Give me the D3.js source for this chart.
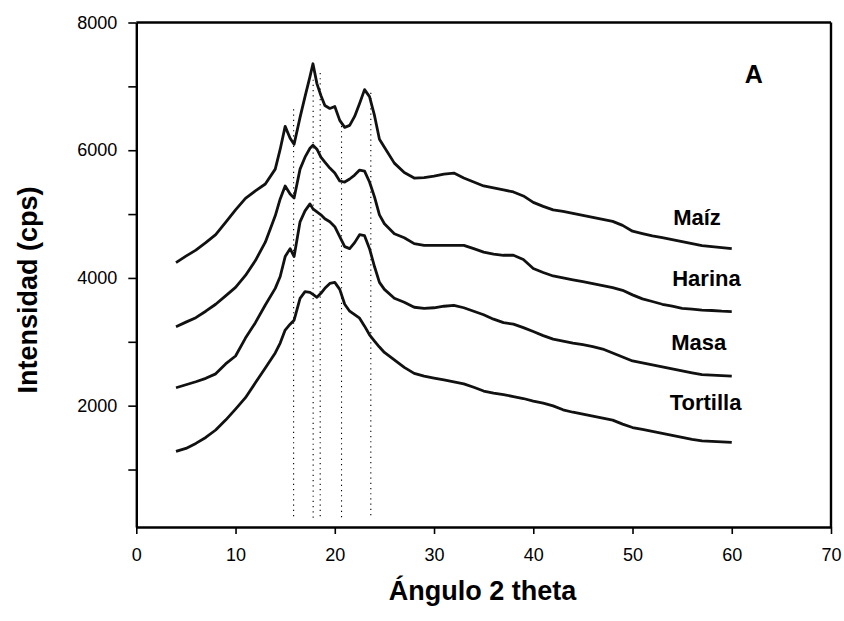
<!DOCTYPE html>
<html>
<head>
<meta charset="utf-8">
<script src="https://cdn.jsdelivr.net/npm/d3@7"></script>
<style>
  body { margin: 0; background: #fff; }
  svg text { font-family: Arial, "Liberation Sans", Helvetica, sans-serif; fill: #000; }
</style>
</head>
<body>
<div id="chart"></div>
<script>
// angulo 2 theta (grados)
const angulos = [4, 5, 6, 7, 8, 9, 10, 11, 12, 13, 14, 14.5, 15, 15.5, 15.9, 16.5, 17, 17.5, 17.8, 18.2, 18.6,
  19, 19.5, 20, 20.5, 21, 21.5, 22, 22.5, 23, 23.5, 24, 24.5, 25, 26, 27, 28, 29, 30, 31, 32, 33, 34, 35, 36,
  37, 38, 39, 40, 41, 42, 43, 44, 45, 46, 47, 48, 49, 50, 51, 52, 53, 54, 55, 56, 57, 58, 59, 60];

// intensidades (cps)
const maiz = [4240, 4342, 4436, 4553, 4677, 4872, 5066, 5245, 5362, 5471, 5704, 6016, 6374, 6187, 6093, 6514, 6840, 7152, 7354, 7043, 6856,
  6700, 6654, 6685, 6467, 6358, 6389, 6529, 6732, 6949, 6840, 6545, 6171, 6047, 5798, 5650, 5564, 5572, 5595, 5626, 5642, 5564, 5502, 5440, 5409,
  5378, 5346, 5284, 5184, 5121, 5066, 5043, 5012, 4981, 4948, 4917, 4886, 4823, 4732, 4693, 4657, 4630, 4599, 4568, 4537, 4506, 4490, 4475, 4459];
const harina = [3237, 3308, 3378, 3479, 3588, 3720, 3852, 4039, 4272, 4560, 4973, 5237, 5440, 5315, 5253, 5704, 5891, 6031, 6078, 6016, 5891,
  5813, 5720, 5642, 5518, 5502, 5549, 5611, 5689, 5673, 5502, 5269, 4988, 4848, 4693, 4630, 4537, 4511, 4511, 4511, 4511, 4511, 4459, 4405, 4374,
  4355, 4355, 4288, 4148, 4086, 4031, 4000, 3969, 3941, 3910, 3879, 3848, 3806, 3735, 3673, 3631, 3588, 3557, 3525, 3511, 3497, 3490, 3480, 3474];
const masa = [2280, 2327, 2374, 2428, 2498, 2654, 2778, 3058, 3300, 3577, 3837, 4023, 4335, 4459, 4335, 4879, 5051, 5160, 5082, 5035, 4988,
  4926, 4879, 4802, 4646, 4490, 4459, 4553, 4677, 4662, 4459, 4179, 3930, 3821, 3681, 3619, 3541, 3525, 3533, 3557, 3572, 3533, 3479, 3424, 3354,
  3300, 3276, 3222, 3161, 3097, 3043, 3012, 2981, 2954, 2925, 2887, 2825, 2763, 2700, 2669, 2640, 2609, 2576, 2545, 2514, 2486, 2478, 2470, 2462];
const tortilla = [1284, 1331, 1409, 1502, 1619, 1774, 1946, 2125, 2358, 2591, 2825, 2981, 3183, 3276, 3339, 3681, 3785, 3774, 3743, 3697, 3759,
  3837, 3914, 3930, 3821, 3588, 3479, 3424, 3370, 3245, 3110, 3012, 2918, 2833, 2716, 2599, 2506, 2462, 2433, 2405, 2374, 2342, 2288, 2229, 2198,
  2173, 2143, 2112, 2072, 2041, 1997, 1935, 1897, 1866, 1835, 1804, 1773, 1711, 1658, 1627, 1597, 1566, 1535, 1504, 1472, 1448, 1440, 1432, 1424];

const nombres = ["Maíz", "Harina", "Masa", "Tortilla"];
// posicion de la etiqueta: angulo, intensidad
const etiquetaX = [54.1, 54.0, 53.9, 53.75];
const etiquetaY = [4830, 3875, 2870, 1930];

// lineas punteadas de los picos
const picos = [15.85, 17.82, 18.53, 20.68, 23.63];
const picosTope = [6640, 7105, 7210, 6380, 6900];
const picosBase = 220;

const xTicks = [0, 10, 20, 30, 40, 50, 60, 70];
const yTicks = [1000, 2000, 3000, 4000, 5000, 6000, 7000, 8000];
const yEtiquetas = [2000, 4000, 6000, 8000];

const series = [maiz, harina, masa, tortilla];

const W = 844, H = 621;
const margin = {top: 22.5, right: 13, bottom: 94, left: 136.3};
const width = W - margin.left - margin.right;
const height = H - margin.top - margin.bottom;

const svg = d3.select("#chart").append("svg")
    .attr("width", W)
    .attr("height", H);

const g = svg.append("g")
    .attr("transform", `translate(${margin.left},${margin.top})`);

const x = d3.scaleLinear().domain([0, 70]).range([0, width]);
const y = d3.scaleLinear().domain([100, 8000]).range([height, 0]);

// lineas punteadas
picos.forEach((p, i) => {
  g.append("line")
      .attr("x1", x(p)).attr("x2", x(p))
      .attr("y1", y(picosTope[i])).attr("y2", y(picosBase))
      .attr("stroke", "#000")
      .attr("stroke-width", 1.1)
      .attr("stroke-dasharray", "1.2,4");
});

// difractogramas
const line = d3.line()
    .x((d, i) => x(angulos[i]))
    .y(d => y(d));

series.forEach(s => {
  g.append("path")
      .datum(s)
      .attr("fill", "none")
      .attr("stroke", "#111")
      .attr("stroke-width", 2.8)
      .attr("stroke-linejoin", "round")
      .attr("d", line);
});

// ejes
const xAxis = g.append("g")
    .attr("transform", `translate(0,${height})`)
    .call(d3.axisBottom(x).tickValues(xTicks).tickSize(7).tickPadding(14).tickSizeOuter(0));

const yAxis = g.append("g")
    .call(d3.axisLeft(y).tickValues(yTicks).tickSize(8).tickPadding(11).tickSizeOuter(0)
      .tickFormat(d => yEtiquetas.includes(d) ? d : ""));

[xAxis, yAxis].forEach(a => {
  a.select(".domain").attr("stroke", "#000").attr("stroke-width", 2.4);
  a.selectAll(".tick line").attr("stroke", "#000").attr("stroke-width", 1.6);
  a.selectAll(".tick text").attr("font-size", 18).attr("fill", "#000")
      .style("font-family", "Arial, 'Liberation Sans', sans-serif");
});

// marco superior y derecho
g.append("line").attr("x1", 0).attr("x2", width).attr("y1", 0).attr("y2", 0)
    .attr("stroke", "#000").attr("stroke-width", 2.4);
g.append("line").attr("x1", width).attr("x2", width).attr("y1", 0).attr("y2", height)
    .attr("stroke", "#000").attr("stroke-width", 2.4);

// etiquetas de series
nombres.forEach((n, i) => {
  g.append("text")
      .attr("x", x(etiquetaX[i]))
      .attr("y", y(etiquetaY[i]))
      .attr("font-size", 22)
      .attr("font-weight", "bold")
      .text(n);
});

g.append("text")
    .attr("x", x(61.3))
    .attr("y", y(7050))
    .attr("font-size", 25)
    .attr("font-weight", "bold")
    .text("A");

// titulos de ejes
svg.append("text")
    .attr("x", 482.5)
    .attr("y", 600)
    .attr("text-anchor", "middle")
    .attr("font-size", 27)
    .attr("font-weight", "bold")
    .text("Ángulo 2 theta");

svg.append("text")
    .attr("transform", "translate(37,290) rotate(-90)")
    .attr("text-anchor", "middle")
    .attr("font-size", 27)
    .attr("font-weight", "bold")
    .text("Intensidad (cps)");
</script>
</body>
</html>
